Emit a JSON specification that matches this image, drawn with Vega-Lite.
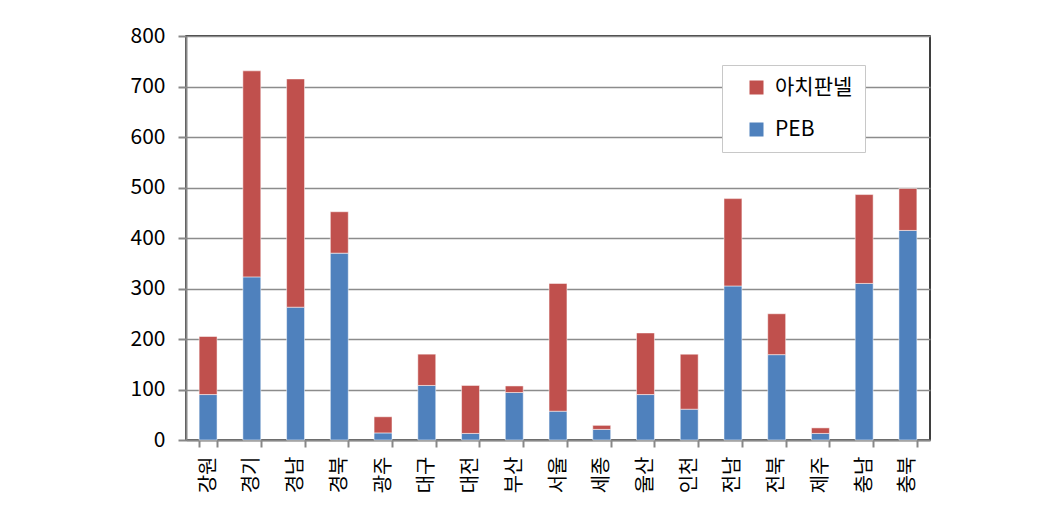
{
  "$schema": "https://vega.github.io/schema/vega-lite/v6.json",
  "autosize": {"type": "none"},
  "width": 744,
  "height": 404,
  "padding": {"left": 186, "top": 36, "right": 134, "bottom": 71},
  "background": "white",
  "config": {
    "view": {"stroke": "#000000", "strokeWidth": 1.5},
    "font": "Noto Sans CJK KR"
  },
  "data": {
    "values": [
      {"region": "강원", "type": "PEB", "value": 90},
      {"region": "강원", "type": "아치판넬", "value": 115},
      {"region": "경기", "type": "PEB", "value": 323},
      {"region": "경기", "type": "아치판넬", "value": 408},
      {"region": "경남", "type": "PEB", "value": 263},
      {"region": "경남", "type": "아치판넬", "value": 452},
      {"region": "경북", "type": "PEB", "value": 370},
      {"region": "경북", "type": "아치판넬", "value": 82},
      {"region": "광주", "type": "PEB", "value": 14},
      {"region": "광주", "type": "아치판넬", "value": 32},
      {"region": "대구", "type": "PEB", "value": 108},
      {"region": "대구", "type": "아치판넬", "value": 62},
      {"region": "대전", "type": "PEB", "value": 13},
      {"region": "대전", "type": "아치판넬", "value": 95},
      {"region": "부산", "type": "PEB", "value": 94},
      {"region": "부산", "type": "아치판넬", "value": 13},
      {"region": "서울", "type": "PEB", "value": 57},
      {"region": "서울", "type": "아치판넬", "value": 253},
      {"region": "세종", "type": "PEB", "value": 21},
      {"region": "세종", "type": "아치판넬", "value": 8},
      {"region": "울산", "type": "PEB", "value": 90},
      {"region": "울산", "type": "아치판넬", "value": 122},
      {"region": "인천", "type": "PEB", "value": 61},
      {"region": "인천", "type": "아치판넬", "value": 109},
      {"region": "전남", "type": "PEB", "value": 305},
      {"region": "전남", "type": "아치판넬", "value": 173},
      {"region": "전북", "type": "PEB", "value": 169},
      {"region": "전북", "type": "아치판넬", "value": 81},
      {"region": "제주", "type": "PEB", "value": 13},
      {"region": "제주", "type": "아치판넬", "value": 11},
      {"region": "충남", "type": "PEB", "value": 310},
      {"region": "충남", "type": "아치판넬", "value": 176},
      {"region": "충북", "type": "PEB", "value": 415},
      {"region": "충북", "type": "아치판넬", "value": 83}
    ]
  },
  "mark": {"type": "bar", "stroke": "#ffffff", "strokeOpacity": 0.5, "strokeWidth": 1},
  "encoding": {
    "x": {
      "field": "region",
      "type": "nominal",
      "sort": null,
      "scale": {"paddingInner": 0.59, "paddingOuter": 0.3},
      "axis": {
        "title": null,
        "labelAngle": -90,
        "labelFontSize": 20,
        "labelColor": "#000000",
        "labelPadding": 9,
        "tickBand": "extent",
        "tickSize": 7,
        "tickColor": "#888888",
        "tickWidth": 2,
        "domainColor": "#888888",
        "domainWidth": 2,
        "grid": false
      }
    },
    "y": {
      "field": "value",
      "type": "quantitative",
      "stack": "zero",
      "scale": {"domain": [0, 800], "nice": false},
      "axis": {
        "title": null,
        "values": [0, 100, 200, 300, 400, 500, 600, 700, 800],
        "labelFontSize": 21,
        "labelColor": "#000000",
        "labelPadding": 13,
        "tickSize": 8,
        "tickColor": "#888888",
        "tickWidth": 2,
        "domainColor": "#888888",
        "domainWidth": 2,
        "grid": true,
        "gridColor": "#8c8c8c",
        "gridWidth": 1.5
      }
    },
    "order": {"field": "type", "sort": "ascending"},
    "color": {
      "field": "type",
      "type": "nominal",
      "scale": {"domain": ["아치판넬", "PEB"], "range": ["#C0504D", "#4F81BD"]},
      "legend": {
        "title": null,
        "orient": "none",
        "legendX": 536,
        "legendY": 29,
        "symbolType": "square",
        "symbolSize": 196,
        "symbolStrokeWidth": 0,
        "symbolOffset": 12,
        "labelFontSize": 21,
        "labelColor": "#000000",
        "labelOffset": 8,
        "rowPadding": 20,
        "padding": 12,
        "fillColor": "#ffffff",
        "strokeColor": "#c8c8c8"
      }
    }
  }
}
